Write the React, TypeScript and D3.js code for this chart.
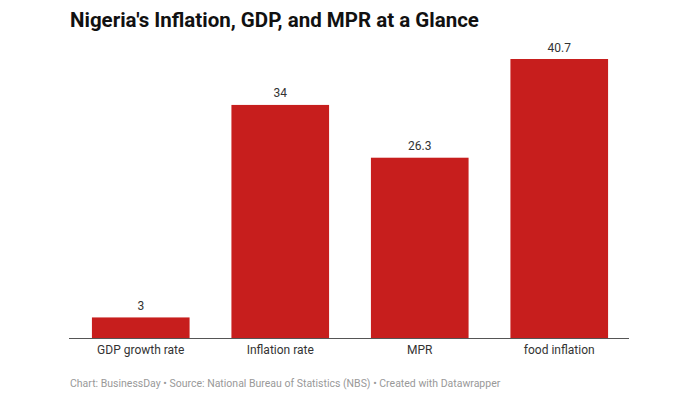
import React, { useRef, useEffect } from "react";
import * as d3 from "d3";

const categories = ["GDP growth rate", "Inflation rate", "MPR", "food inflation"];
const values = [3, 34, 26.3, 40.7];

const title = "Nigeria's Inflation, GDP, and MPR at a Glance";
const footer =
  "Chart: BusinessDay • Source: National Bureau of Statistics (NBS) • Created with Datawrapper";

const width = 700;
const height = 400;
const margin = { top: 59, right: 71, bottom: 62, left: 71 };

const App: React.FC = () => {
  const svgRef = useRef<SVGSVGElement | null>(null);

  useEffect(() => {
    const svg = d3.select(svgRef.current);
    svg.selectAll("*").remove();

    const x = d3
      .scaleBand()
      .domain(categories)
      .range([margin.left, width - margin.right])
      .paddingInner(0.3)
      .paddingOuter(0.15);

    const y = d3
      .scaleLinear()
      .domain([0, 40.7])
      .range([height - margin.bottom, margin.top]);

    const data = categories.map((c, i) => ({ c, v: values[i] }));

    // タイトル
    svg
      .append("text")
      .attr("x", 70)
      .attr("y", 27)
      .style("font-family", "Roboto")
      .style("font-weight", "700")
      .style("font-size", "20.5px")
      .style("fill", "#111")
      .text(title);

    // 棒
    svg
      .append("g")
      .selectAll("rect")
      .data(data)
      .enter()
      .append("rect")
      .attr("x", (d) => x(d.c)!)
      .attr("width", x.bandwidth())
      .attr("y", (d) => y(d.v))
      .attr("height", (d) => y(0) - y(d.v))
      .attr("fill", "#c71e1d");

    // 値ラベル
    svg
      .append("g")
      .selectAll("text")
      .data(data)
      .enter()
      .append("text")
      .attr("x", (d) => x(d.c)! + x.bandwidth() / 2)
      .attr("y", (d) => y(d.v) - 7.5)
      .attr("text-anchor", "middle")
      .style("font-family", "Roboto")
      .style("font-size", "12px")
      .style("fill", "#333")
      .text((d) => String(d.v));

    // ベースライン
    svg
      .append("line")
      .attr("x1", 69)
      .attr("x2", 629)
      .attr("y1", y(0) + 0.5)
      .attr("y2", y(0) + 0.5)
      .attr("stroke", "#555")
      .attr("stroke-width", 1);

    // カテゴリラベル
    svg
      .append("g")
      .selectAll("text")
      .data(categories)
      .enter()
      .append("text")
      .attr("x", (d) => x(d)! + x.bandwidth() / 2)
      .attr("y", y(0) + 16)
      .attr("text-anchor", "middle")
      .style("font-family", "Roboto")
      .style("font-size", "12px")
      .style("fill", "#333")
      .text((d) => d);

    // フッター
    svg
      .append("text")
      .attr("x", 70)
      .attr("y", 387)
      .style("font-family", "Roboto")
      .style("font-size", "10.5px")
      .style("fill", "#999")
      .text(footer);
  }, []);

  return (
    <svg
      ref={svgRef}
      width={width}
      height={height}
      style={{ position: "absolute", top: 0, left: 0, background: "#fff" }}
    ></svg>
  );
};

export default App;
